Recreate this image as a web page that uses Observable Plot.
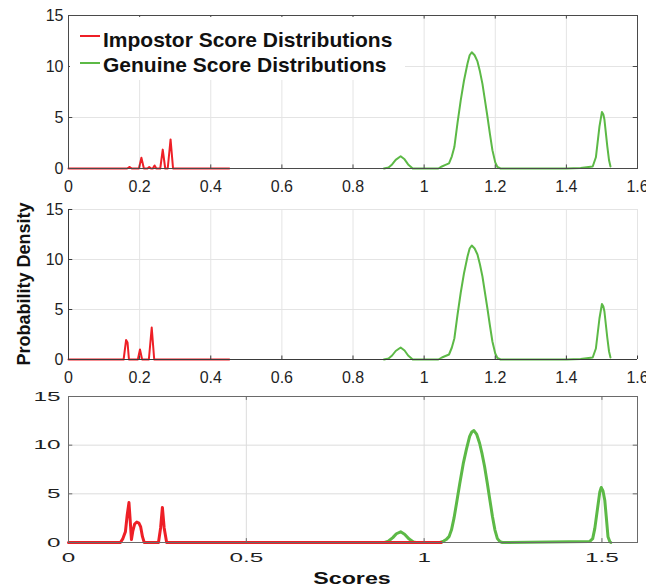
<!DOCTYPE html>
<html>
<head>
<meta charset="utf-8">
<script src="https://cdn.jsdelivr.net/npm/d3@7"></script>
<script src="https://cdn.jsdelivr.net/npm/@observablehq/plot@0.6"></script>
<style>
  html, body { margin: 0; padding: 0; background: #fff; }
  #wrap { position: relative; width: 646px; height: 586px; overflow: hidden; background: #fff; font-family: "Liberation Sans", Arial, sans-serif; color: #1a1a1a; }
  .panel { position: absolute; left: 0; }
  .lbl { position: absolute; line-height: 1; white-space: nowrap; font-weight: bold; }
</style>
</head>
<body>
<div id="wrap"></div>
<script>
// ---- data ----
const xTicksFine = [0, 0.2, 0.4, 0.6, 0.8, 1, 1.2, 1.4, 1.6];
const xTicksCoarse = [0, 0.5, 1, 1.5];
const yTicks = [0, 5, 10, 15];
const legendLabels = ["Impostor Score Distributions", "Genuine Score Distributions"];
const xLabel = "Scores";
const yLabel = "Probability Density";

// panel 1 impostor [score, density]
const impostorTop = [[0,0],[0.165,0],[0.172,0.15],[0.178,0],[0.198,0],[0.205,1.05],[0.212,0],[0.222,0],[0.227,0.15],[0.232,0],[0.237,0],[0.242,0.3],[0.247,0],[0.258,0],[0.265,1.85],[0.272,0],[0.279,0],[0.287,2.85],[0.294,0],[0.452,0]];
// panel 2 impostor
const impostorMid = [[0,0],[0.155,0],[0.162,1.95],[0.166,1.7],[0.17,0],[0.195,0],[0.201,1.0],[0.207,0],[0.226,0],[0.234,3.2],[0.241,0],[0.452,0]];
// panel 3 impostor
const impostorBot = [[0,0],[0.146,0],[0.153,0.4],[0.16,1.1],[0.165,2.8],[0.17,4.1],[0.174,2.0],[0.177,0.3],[0.181,1.2],[0.186,1.9],[0.192,2.1],[0.198,2.0],[0.203,1.6],[0.208,0.6],[0.213,0],[0.253,0],[0.259,1.5],[0.264,3.6],[0.269,1.5],[0.276,0],[1.048,0]];
// panels 1 and 2 genuine
const genuineTop = [[0.887,0],[0.9,0.1],[0.91,0.4],[0.92,0.85],[0.934,1.2],[0.945,0.9],[0.955,0.4],[0.968,0],[1.04,0],[1.05,0.2],[1.06,0.35],[1.07,0.5],[1.078,1.2],[1.085,2.1],[1.094,4.5],[1.103,6.7],[1.112,8.6],[1.122,10.3],[1.128,11.1],[1.134,11.4],[1.142,11.1],[1.15,10.5],[1.157,9.5],[1.164,8.3],[1.171,6.7],[1.178,5.1],[1.185,3.4],[1.192,1.8],[1.2,0.6],[1.206,0.15],[1.215,0],[1.4,0],[1.44,0.05],[1.474,0.2],[1.483,1.1],[1.493,4.1],[1.5,5.55],[1.504,5.3],[1.507,4.8],[1.511,3.5],[1.515,2.2],[1.52,0.8],[1.524,0.2]];
const genuineMid = genuineTop;
// panel 3 genuine
const genuineBot = [[0.889,0],[0.9,0.15],[0.912,0.5],[0.922,0.9],[0.934,1.1],[0.945,0.85],[0.958,0.35],[0.97,0.05],[0.977,0],[1.045,0],[1.055,0.15],[1.062,0.3],[1.07,0.6],[1.077,1.3],[1.084,2.5],[1.091,4.0],[1.1,6.0],[1.11,8.1],[1.119,9.6],[1.128,10.9],[1.134,11.35],[1.14,11.5],[1.148,11.1],[1.156,10.2],[1.163,9.1],[1.17,7.8],[1.178,6.0],[1.185,4.35],[1.192,2.7],[1.199,1.3],[1.206,0.4],[1.213,0.1],[1.22,0],[1.465,0.1],[1.474,0.4],[1.48,1.45],[1.488,3.6],[1.494,5.2],[1.498,5.65],[1.503,5.3],[1.508,4.35],[1.512,2.7],[1.517,0.6],[1.522,0.1],[1.525,0]];

const RED = "#ee1f26";
const GREEN = "#5cb946";

const wrap = document.getElementById("wrap");
const fmt = d => String(+d.toFixed(1));

function panel(cfg) {
  const {imp, gen, xTicks, gridXv, gridYv, top, height, mt, mb, frame, sw, padX, padY,
         gridColor, axisColor, fontFamily, fontSize, tickLenY, tickLenX} = cfg;
  const marks = [
    Plot.gridX(gridXv, {stroke: gridColor, strokeOpacity: 1}),
    Plot.gridY(gridYv, {stroke: gridColor, strokeOpacity: 1}),
    Plot.line(gen, {x: d => d[0], y: d => d[1], stroke: GREEN, strokeWidth: sw}),
    Plot.line(imp, {x: d => d[0], y: d => d[1], stroke: RED, strokeWidth: sw}),
    Plot.ruleX(xTicks, {y1: 0, y2: tickLenY, stroke: axisColor}),
    Plot.ruleY(yTicks, {x1: 0, x2: tickLenX, stroke: axisColor})
  ];
  if (frame) {
    marks.push(Plot.frame({stroke: axisColor}));
    marks.push(Plot.ruleX(xTicks, {y1: 15, y2: 15 - tickLenY, stroke: axisColor}));
    marks.push(Plot.ruleY(yTicks, {x1: 1.6, x2: 1.6 - tickLenX, stroke: axisColor}));
  } else {
    marks.push(Plot.ruleX([0], {stroke: axisColor}));
    marks.push(Plot.ruleY([0], {stroke: axisColor}));
  }
  marks.push(Plot.axisX(xTicks, {tickSize: 0, tickPadding: padX, tickFormat: fmt, label: null, fill: "#1f1f1f"}));
  marks.push(Plot.axisY(yTicks, {tickSize: 0, tickPadding: padY, tickFormat: fmt, label: null, fill: "#1f1f1f"}));
  const svg = Plot.plot({
    width: 646, height,
    marginLeft: 68, marginRight: 9, marginTop: mt, marginBottom: mb,
    x: {domain: [0, 1.6]},
    y: {domain: [0, 15]},
    style: {background: "transparent", fontFamily, fontSize: fontSize + "px", overflow: "visible"},
    marks
  });
  svg.classList.add("panel");
  svg.style.top = top + "px";
  wrap.appendChild(svg);
  return svg;
}

panel({imp: impostorTop, gen: genuineTop, xTicks: xTicksFine, gridXv: xTicksFine, gridYv: [5, 10],
  top: 0, height: 195, mt: 15, mb: 27, frame: true, sw: 2, padX: 12, padY: 5,
  gridColor: "#e4e4e4", axisColor: "#4a4a4a", fontFamily: "Liberation Sans", fontSize: 16, tickLenY: 0.35, tickLenX: 0.012});

panel({imp: impostorMid, gen: genuineMid, xTicks: xTicksFine, gridXv: xTicksFine, gridYv: [5, 10, 15],
  top: 195, height: 190, mt: 14, mb: 26, frame: false, sw: 2, padX: 12, padY: 5,
  gridColor: "#e4e4e4", axisColor: "#3a3a3a", fontFamily: "Liberation Sans", fontSize: 16, tickLenY: 0.35, tickLenX: 0.012});

const p3 = panel({imp: impostorBot, gen: genuineBot, xTicks: xTicksCoarse, gridXv: xTicksCoarse, gridYv: [5, 10],
  top: 385, height: 201, mt: 11, mb: 44, frame: true, sw: 3, padX: 9.5, padY: 8,
  gridColor: "#dcdcdc", axisColor: "#6a6a6a", fontFamily: "Liberation Sans", fontSize: 13.5, tickLenY: 0.4, tickLenX: 0.012});

// bottom panel text appears horizontally stretched in the reference
p3.querySelectorAll("text").forEach(t => {
  const len = t.getComputedTextLength();
  if (len > 0) {
    t.setAttribute("textLength", (len * 1.8).toFixed(1));
    t.setAttribute("lengthAdjust", "spacingAndGlyphs");
  }
});

// legend (white box over the top panel)
const leg = document.createElement("div");
leg.style.cssText = "position:absolute;left:70px;top:17px;width:335px;height:63px;background:#fff;";
wrap.appendChild(leg);
[[RED, 28.9, 36], [GREEN, 53.9, 62.5]].forEach(([c, ty, sy], i) => {
  const sw = document.createElement("div");
  sw.style.cssText = `position:absolute;left:80px;top:${sy - 1}px;width:20px;height:2px;background:${c};`;
  wrap.appendChild(sw);
  const tx = document.createElement("div");
  tx.className = "lbl";
  tx.style.cssText += `left:103px;top:${ty}px;font-size:21px;color:#111;`;
  tx.textContent = legendLabels[i];
  wrap.appendChild(tx);
});

// y label
const yl = document.createElement("div");
yl.className = "lbl";
yl.style.cssText += "left:-76px;top:275px;width:200px;text-align:center;font-size:18px;transform:rotate(-90deg);transform-origin:center;color:#111;";
yl.textContent = yLabel;
wrap.appendChild(yl);

// x label
const xl = document.createElement("div");
xl.className = "lbl";
xl.style.cssText += "left:252px;top:570.5px;width:200px;text-align:center;font-size:16px;transform:scaleX(1.45);transform-origin:center;color:#111;";
xl.textContent = xLabel;
wrap.appendChild(xl);
</script>
</body>
</html>
